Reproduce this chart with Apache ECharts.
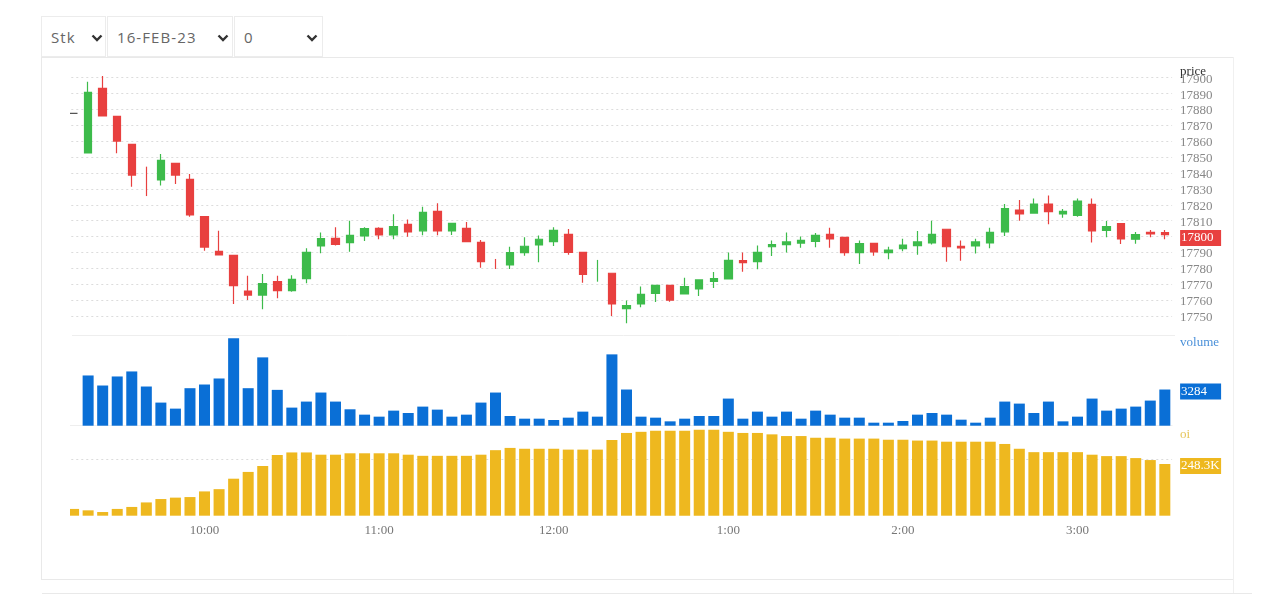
<!DOCTYPE html>
<html lang="en">

<head>
    <meta charset="UTF-8" />
    <title>Stk 16-FEB-23</title>
    <style>
        html, body { margin: 0; padding: 0; width: 1280px; height: 605px; background: #fff; overflow: hidden; }
        select {
            position: absolute; top: 16px; height: 41px; box-sizing: border-box;
            appearance: none; -webkit-appearance: none;
            background: #fff url("data:image/svg+xml,%3Csvg xmlns='http://www.w3.org/2000/svg' width='12' height='8'%3E%3Cpath d='M1.5 1.5 L6 6 L10.5 1.5' fill='none' stroke='%23333' stroke-width='2.4'/%3E%3C/svg%3E") no-repeat;
            border: 1px solid #ececec; border-radius: 0;
            font-family: "Open Sans", sans-serif; font-size: 15px; letter-spacing: 1.1px; color: #666;
            padding-left: 9px; outline: none;
        }
        .rule { position: absolute; background: #e9e9e9; }
        #chart { position: absolute; left: 0; top: 0; width: 1280px; height: 605px; }
    </style>
</head>

<body>
    <select style="left: 41px; width: 65px; background-position: 49px 17px;"><option>Stk</option></select>
    <select style="left: 107px; width: 126px; background-position: 109px 17px;"><option>16-FEB-23</option></select>
    <select style="left: 234px; width: 89px; background-position: 71px 17px;"><option>0</option></select>
    <div class="rule" style="left: 41px; top: 57px; width: 1192px; height: 1px;"></div>
    <div class="rule" style="left: 41px; top: 57px; width: 1px; height: 522px;"></div>
    <div class="rule" style="left: 41px; top: 579px; width: 1192px; height: 1px;"></div>
    <div class="rule" style="left: 1233px; top: 57px; width: 1px; height: 536px; background: #f0f0f0;"></div>
    <div class="rule" style="left: 42px; top: 593px; width: 1210px; height: 1px;"></div>
    <div id="chart"></div>

    <script src="https://cdn.jsdelivr.net/npm/echarts@6/dist/echarts.min.js"></script>
    <script type="text/javascript">
        var times = ['9:15', '9:20', '9:25', '9:30', '9:35', '9:40', '9:45', '9:50', '9:55',
            '10:00', '10:05', '10:10', '10:15', '10:20', '10:25', '10:30', '10:35', '10:40', '10:45', '10:50', '10:55',
            '11:00', '11:05', '11:10', '11:15', '11:20', '11:25', '11:30', '11:35', '11:40', '11:45', '11:50', '11:55',
            '12:00', '12:05', '12:10', '12:15', '12:20', '12:25', '12:30', '12:35', '12:40', '12:45', '12:50', '12:55',
            '1:00', '1:05', '1:10', '1:15', '1:20', '1:25', '1:30', '1:35', '1:40', '1:45', '1:50', '1:55',
            '2:00', '2:05', '2:10', '2:15', '2:20', '2:25', '2:30', '2:35', '2:40', '2:45', '2:50', '2:55',
            '3:00', '3:05', '3:10', '3:15', '3:20', '3:25', '3:30'];
        var hourLabels = ['10:00', '11:00', '12:00', '1:00', '2:00', '3:00'];

        var opens = [17877.5, 17852.6, 17893.3, 17875.7, 17858, 17842, 17835.6, 17846.1, 17836, 17812.5,
            17790.7, 17788.2, 17765.7, 17763.2, 17771.6, 17766, 17773.5, 17794.1, 17798.9, 17796.2,
            17800.4, 17805.2, 17801, 17807.7, 17803.6, 17815.9, 17803.5, 17805.2, 17796.4, 17783,
            17782.1, 17789.9, 17794.7, 17796.8, 17801.4, 17790.1, 17778, 17776.9, 17754.6, 17757.6,
            17764.3, 17769.3, 17763.9, 17767, 17771.8, 17773.3, 17784.8, 17784.2, 17793.6, 17794.9,
            17795.9, 17797, 17801.4, 17799.5, 17789.9, 17795.7, 17789.9, 17792.4, 17794.3, 17796,
            17804.6, 17793.8, 17794.1, 17796, 17803, 17816.7, 17814.8, 17820.5, 17814.2, 17813.4,
            17820.3, 17803.9, 17808.1, 17798.3, 17802.7, 17802.5];
        var closes = [17877.5, 17890.8, 17875.9, 17860.1, 17838.7, 17841.8, 17848, 17838.7, 17813.6, 17793.4,
            17788.4, 17769.1, 17763.2, 17770.4, 17766, 17773, 17790.1, 17798.7, 17795.1, 17800.8,
            17805, 17801, 17806.2, 17802.9, 17815.2, 17803.5, 17808.3, 17796.8, 17784.2, 17782.8,
            17789.9, 17793.9, 17798.3, 17803.9, 17790.1, 17776.2, 17778.2, 17757.6, 17756.5, 17763.6,
            17769.3, 17760, 17768.5, 17772.7, 17773.5, 17785, 17783.6, 17790.1, 17794.9, 17796.6,
            17797.6, 17800.8, 17798.5, 17789.9, 17795.5, 17790.3, 17791.5, 17794.7, 17796.6, 17801.4,
            17793.6, 17792.8, 17796.6, 17802.7, 17817.6, 17814.2, 17820.5, 17815.7, 17815.9, 17822.4,
            17803.5, 17806.2, 17798.5, 17801.2, 17801.6, 17801.2];
        var lows = [17877.5, 17852.6, 17875.9, 17852.4, 17831.4, 17825.5, 17832.2, 17833.1, 17812.5, 17791.1,
            17788.4, 17757.6, 17760, 17754.2, 17761.1, 17765.3, 17770.6, 17789.5, 17794.3, 17790.5,
            17797.2, 17798.3, 17798.3, 17799.9, 17800.8, 17800.8, 17801, 17796.8, 17780.4, 17779.6,
            17779.6, 17788, 17783.8, 17794.1, 17788.6, 17771, 17771.6, 17750, 17745.4, 17755.5,
            17758.8, 17759, 17763.9, 17762.6, 17767.6, 17773.3, 17777.9, 17779.4, 17787.8, 17789.9,
            17793, 17793.2, 17793, 17788, 17782.7, 17788, 17785.7, 17790.7, 17788.6, 17795,
            17784.2, 17784.8, 17789.3, 17792.6, 17800.4, 17810, 17814.8, 17807.8, 17811.9, 17812.5,
            17796.2, 17799.5, 17795.3, 17795.5, 17799.5, 17798.3];
        var highs = [17877.5, 17897.5, 17901, 17875.7, 17858, 17844, 17852, 17846.1, 17839.4, 17812.5,
            17803.7, 17788.2, 17775.4, 17776.4, 17775.4, 17775.6, 17792.6, 17802.5, 17805.8, 17810,
            17805.8, 17805.8, 17814, 17810.8, 17818.8, 17820.9, 17808.3, 17809.2, 17797.8, 17785.9,
            17793.6, 17799.5, 17800.6, 17805.8, 17804.8, 17790.1, 17785.3, 17776.9, 17759.7, 17768.5,
            17769.3, 17769.3, 17774.1, 17772.7, 17777.7, 17789.9, 17789.9, 17794.3, 17797.6, 17802.5,
            17800.1, 17802.2, 17805.6, 17799.5, 17797.6, 17795.7, 17793.6, 17798.7, 17803.5, 17810,
            17804.6, 17797.6, 17798.7, 17805.6, 17820.5, 17823, 17824, 17825.9, 17817.3, 17824,
            17824, 17809.8, 17808.1, 17802.9, 17804.1, 17804.1];
        // these three were drawn with a hairline body in the original
        var thinBars = [5, 29, 36];

        var volumes = [0, 4560, 3648, 4469, 4925, 3557, 2098, 1550, 3405, 3739, 4286, 7934, 3405, 6202, 3253, 1642,
            2189, 3010, 2189, 1490, 1003, 821, 1368, 1155, 1733, 1459, 821, 1003, 2098, 3010, 882, 638,
            638, 517, 730, 1277, 821, 6475, 3284, 821, 730, 395, 638, 882, 882, 2462, 638, 1277, 821,
            1277, 638, 1368, 1003, 730, 730, 274, 274, 426, 1003, 1155, 1003, 547, 274, 730, 2189, 2006,
            1155, 2189, 395, 821, 2462, 1368, 1550, 1733, 2280, 3284];
        var openInterest = [232400, 231900, 231300, 232400, 233100, 234700, 235900, 236400, 236600, 238600,
            239400, 243100, 245500, 247600, 251500, 252400, 252400, 251600, 251600, 252100,
            252100, 252100, 252100, 251600, 251200, 251200, 251200, 251200, 251600, 253200,
            254000, 253700, 253700, 253700, 253400, 253400, 253400, 256800, 259300, 259700,
            260100, 260100, 260100, 260400, 260400, 259700, 259300, 259300, 258800, 258200,
            258200, 257600, 257600, 257300, 257300, 257300, 256900, 256900, 256600, 256600,
            256200, 256200, 256200, 256200, 255400, 253700, 252500, 252500, 252500, 252500,
            251600, 251100, 251100, 250400, 249700, 248300];
        var lastPriceTick = 17800;
        var lastVolume = 3284;
        var lastOi = 248300;
        var oiTick = 250000;

        var green = '#3dbb4b', red = '#e8403f', blue = '#0a6fd6', gold = '#eeb81f';
        var serif = '"Liberation Serif", serif';
        var gridLeft = 66.3, gridWidth = 1105.8;

        function candle(i) {
            return [opens[i], closes[i], lows[i], highs[i]];
        }
        var mainCandles = times.map(function (t, i) {
            return thinBars.indexOf(i) >= 0 ? '-' : candle(i);
        });
        var thinCandles = times.map(function (t, i) {
            return thinBars.indexOf(i) >= 0 ? candle(i) : '-';
        });
        var candleStyle = { color: green, color0: red, borderColor: green, borderColor0: red, borderColorDoji: '#555', borderWidth: 1.2 };

        function flagLabel(bg) {
            return { backgroundColor: bg, color: '#fff', width: 40, height: 16, lineHeight: 16, fontFamily: serif, fontSize: 13, padding: [0, 0, 0, 1] };
        }
        function timeAxis(index, showLabel, lineColor) {
            return {
                type: 'category', gridIndex: index, data: times, boundaryGap: true,
                axisTick: { show: false },
                axisLine: { show: !!lineColor, lineStyle: { color: lineColor || '#eee' } },
                splitLine: { show: false },
                axisLabel: {
                    show: showLabel, color: '#777', fontFamily: serif, fontSize: 13, margin: 8,
                    interval: function (i, name) { return hourLabels.indexOf(name) >= 0; }
                }
            };
        }

        var myChart = echarts.init(document.getElementById('chart'), null, { renderer: 'canvas' });
        var option = {
            animation: false,
            backgroundColor: 'transparent',
            grid: [
                { left: gridLeft, width: gridWidth, top: 77.7, height: 238.3 },
                { left: gridLeft, width: gridWidth, top: 338.3, height: 87.4 },
                { left: gridLeft, width: gridWidth, top: 429.7, height: 86 }
            ],
            graphic: [{
                type: 'line', silent: true, z: 0,
                shape: { x1: 72, y1: 335.5, x2: 1175, y2: 335.5 },
                style: { stroke: '#eeeeee', lineWidth: 1 }
            }, {
                // the plot area starts at x=70 in the original, trim the first band
                type: 'rect', silent: true, z: 100,
                shape: { x: 60, y: 70, width: 10, height: 450 },
                style: { fill: '#fff' }
            }],
            xAxis: [timeAxis(0, false), timeAxis(1, false, '#eeeeee'), timeAxis(2, true)],
            yAxis: [
                {
                    type: 'value', gridIndex: 0, position: 'right', min: 17750, max: 17900, interval: 10, scale: true,
                    name: 'price', nameLocation: 'end', nameGap: 0, nameMoveOverlap: false,
                    nameTextStyle: { align: 'left', color: '#333', fontFamily: serif, fontSize: 13, padding: [0, 0, 0, 8] },
                    axisLine: { show: false }, axisTick: { show: false },
                    splitLine: { lineStyle: { color: '#dcdcdc', type: [2, 3] } },
                    axisLabel: {
                        color: '#888', fontFamily: serif, fontSize: 13, margin: 8, padding: [3, 0, 0, 0],
                        formatter: function (v) { return v === lastPriceTick ? '{last|' + v + '}' : '' + v; },
                        rich: { last: flagLabel(red) }
                    }
                },
                {
                    type: 'value', gridIndex: 1, position: 'right', min: 0, max: 7934,
                    name: 'volume', nameLocation: 'end', nameGap: -11, nameMoveOverlap: false,
                    nameTextStyle: { align: 'left', color: '#4a90d9', fontFamily: serif, fontSize: 13, padding: [0, 0, 0, 8] },
                    axisLine: { show: false }, axisTick: { show: false }, splitLine: { show: false },
                    axisLabel: {
                        customValues: [lastVolume], margin: 8, padding: [4, 0, 0, 0],
                        formatter: function (v) { return '{last|' + v + '}'; },
                        rich: { last: flagLabel(blue) }
                    }
                },
                {
                    type: 'value', gridIndex: 2, position: 'right', min: 230000, max: 260450,
                    name: 'oi', nameLocation: 'end', nameGap: -11, nameMoveOverlap: false,
                    nameTextStyle: { align: 'left', color: '#e6c65a', fontFamily: serif, fontSize: 13, padding: [0, 0, 0, 8] },
                    axisLine: { show: false },
                    axisTick: { show: false, customValues: [oiTick] },
                    splitLine: { lineStyle: { color: '#dcdcdc', type: [2, 3] } },
                    axisLabel: {
                        customValues: [oiTick, lastOi], margin: 8, color: '#666', fontFamily: serif, fontSize: 13, padding: [4, 0, 0, 0],
                        formatter: function (v) {
                            return v === lastOi ? '{last|' + (v / 1000).toFixed(1) + 'K}' : '{tick|' + (v / 1000) + 'K}';
                        },
                        rich: { last: flagLabel(gold), tick: { color: '#444', fontFamily: serif, fontSize: 13, padding: [0, 0, 3, 0] } }
                    }
                }
            ],
            series: [
                {
                    name: 'price', type: 'candlestick', xAxisIndex: 0, yAxisIndex: 0,
                    data: mainCandles, barWidth: 8, clip: false, itemStyle: candleStyle
                },
                {
                    name: 'price thin', type: 'candlestick', xAxisIndex: 0, yAxisIndex: 0,
                    data: thinCandles, barWidth: 1, clip: false, itemStyle: candleStyle
                },
                {
                    name: 'volume', type: 'bar', xAxisIndex: 1, yAxisIndex: 1,
                    data: volumes, barWidth: 11, itemStyle: { color: blue }
                },
                {
                    name: 'oi', type: 'bar', xAxisIndex: 2, yAxisIndex: 2,
                    data: openInterest, barWidth: 11, itemStyle: { color: gold }
                }
            ]
        };
        myChart.setOption(option);
    </script>
</body>

</html>
